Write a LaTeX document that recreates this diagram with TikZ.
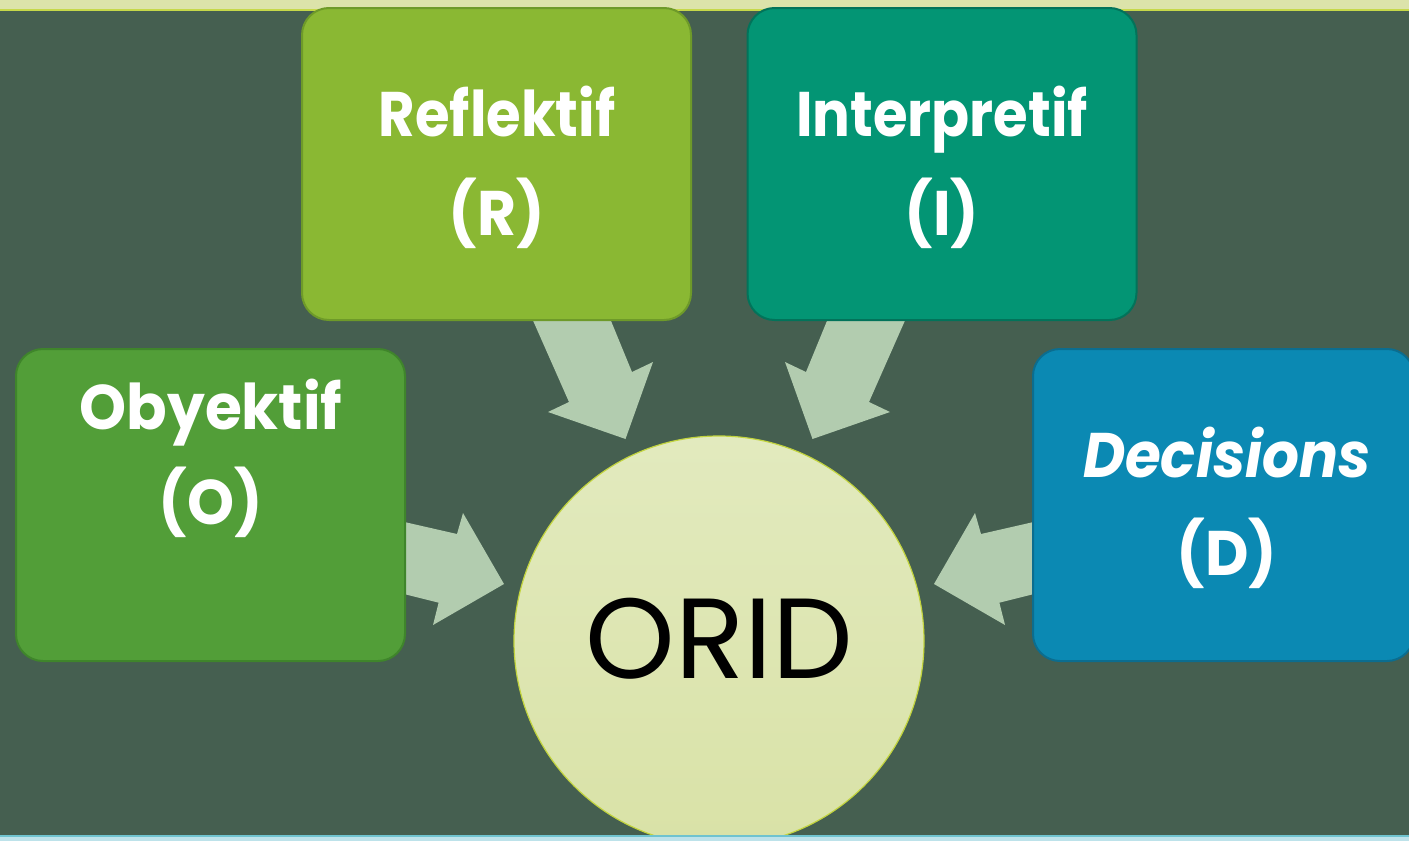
\documentclass[tikz,border=0pt]{standalone}
\usepackage{fontspec}
\setmainfont{Poppins}
\definecolor{bgc}{HTML}{455F50}
\definecolor{topband}{HTML}{DCE3AA}
\definecolor{topline}{HTML}{C6D84A}
\definecolor{botband}{HTML}{BDE2EA}
\definecolor{botline}{HTML}{6FC3CF}
\definecolor{rfill}{HTML}{8AB833}
\definecolor{rdraw}{HTML}{6E9A29}
\definecolor{ifill}{HTML}{039574}
\definecolor{idraw}{HTML}{02735A}
\definecolor{ofill}{HTML}{529E38}
\definecolor{odraw}{HTML}{3F852B}
\definecolor{dfill}{HTML}{0B89B3}
\definecolor{ddraw}{HTML}{0B6D8F}
\definecolor{arr}{HTML}{B2CCAF}
\definecolor{ctop}{HTML}{E2EABE}
\definecolor{cbot}{HTML}{D9E2A7}
\definecolor{cdraw}{HTML}{C2D43E}
\newcommand{\narrowtxt}[2]{\scalebox{#1}[1]{#2}}
\begin{document}
\begin{tikzpicture}[x=1pt,y=-1pt,
  box/.style={rectangle, rounded corners=27pt, line width=2pt, minimum width=389pt, minimum height=312pt, inner sep=0pt},
  lbl/.style={anchor=base, inner sep=0pt, text=white, font=\fontsize{63}{70}\selectfont\bfseries},
  blockarrow/.style={fill=arr, draw=none}]
\useasboundingbox (0,0) rectangle (1409,841);
\fill[bgc] (0,0) rectangle (1409,841);
% top band
\fill[topband] (0,0) rectangle (1409,9);
\fill[topline] (0,9) rectangle (1409,11);
% block arrows
\fill[blockarrow] (531,316) -- (569,402) -- (548,412) -- (625.5,439) -- (653,362) -- (632,372) -- (609,316) -- cycle;
\fill[blockarrow] (907,316) -- (869,402) -- (890,412) -- (812.5,439) -- (785,362) -- (806,372) -- (829,316) -- cycle;
\fill[blockarrow] (400,521) -- (457,534) -- (463,513) -- (504,584) -- (433,625) -- (438.6,602.7) -- (400,593) -- cycle;
\fill[blockarrow] (1038,521) -- (981,534) -- (975,513) -- (934,584) -- (1005,625) -- (999.4,602.7) -- (1038,593) -- cycle;
% boxes
\node[box, fill=rfill, draw=rdraw] (R) at (496.5,164) {};
\node[box, fill=ifill, draw=idraw] (I) at (942,164) {};
\node[box, fill=ofill, draw=odraw] (O) at (210.5,505) {};
\node[box, fill=dfill, draw=ddraw, minimum width=381pt] (D) at (1223.5,505) {};
% labels
\node[lbl] (tR1) at (497,136) {\narrowtxt{0.89}{Reflektif}};
\node[lbl] (tR2) at (497,235) {\narrowtxt{0.95}{(R)}};
\node[lbl] (tI1) at (942,136) {\narrowtxt{0.89}{Interpretif}};
\node[lbl] (tI2) at (942,235) {\narrowtxt{0.95}{(I)}};
\node[lbl] (tO1) at (211,429) {\narrowtxt{0.95}{Obyektif}};
\node[lbl] (tO2) at (211,524) {\narrowtxt{0.95}{(O)}};
\node[lbl, font=\fontsize{63}{70}\selectfont\bfseries\itshape] (tD1) at (1227,477) {\narrowtxt{0.92}{Decisions}};
\node[lbl] (tD2) at (1227,575) {\narrowtxt{0.95}{(D)}};
% circle
\node[circle, minimum size=410pt, inner sep=0pt, draw=cdraw, line width=1.2pt, top color=ctop, bottom color=cbot] (C) at (719,641) {};
\node[anchor=base, inner sep=0pt, font=\fontsize{114}{120}\selectfont] (tC) at (719.5,678) {ORID};
% bottom band
\fill[botline] (0,834.5) rectangle (1409,836.5);
\fill[botband] (0,836.5) rectangle (1409,841);
\end{tikzpicture}
\end{document}
